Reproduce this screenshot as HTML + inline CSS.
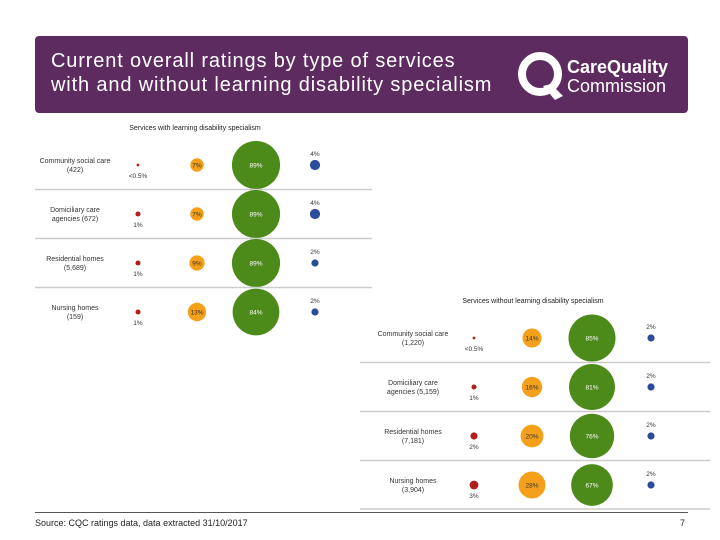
<!DOCTYPE html>
<html><head><meta charset="utf-8"><style>
body{margin:0;width:720px;height:540px;background:#fff;font-family:"Liberation Sans",sans-serif;overflow:hidden;position:relative}
#hdr{position:absolute;left:35px;top:36px;width:653px;height:77px;background:#5e2b61;border-radius:4px}
#ttl{position:absolute;left:16px;top:13px;color:#fff;font-size:20px;line-height:24px;letter-spacing:0.85px}
#src{position:absolute;left:35px;top:518px;font-size:9px;color:#222}
#pg{position:absolute;left:680px;top:518px;font-size:9px;color:#222}
</style></head><body>
<div id="hdr">
<div id="ttl">Current overall ratings by type of services<br>with and without learning disability specialism</div>
<svg style="position:absolute;left:478px;top:12px" width="170" height="56">
<circle cx="27" cy="26" r="18" fill="none" stroke="#fff" stroke-width="8"/>
<path d="M30 38 L42 52 L50 48 L38 36Z" fill="#fff"/>
<text x="54" y="25" fill="#fff" font-size="18" font-weight="bold" font-family="Liberation Sans">CareQuality</text>
<text x="54" y="44" fill="#fff" font-size="18" font-family="Liberation Sans">Commission</text>
</svg>
</div>
<svg id="ch" width="720" height="540" style="position:absolute;left:0;top:0"></svg>
<div style="position:absolute;left:35px;top:512px;width:653px;border-top:1px solid #555"></div>
<div id="src">Source: CQC ratings data, data extracted 31/10/2017</div>
<div id="pg">7</div>
<script>
const categories1=["Community social care|(422)","Domiciliary care|agencies (672)","Residential homes|(5,689)","Nursing homes|(159)"];
const inadequate1=[0.3,1,1,1];
const requiresImprovement1=[7,7,9,13];
const good1=[89,89,89,84];
const outstanding1=[4,4,2,2];
const inadLabels1=["<0.5%","1%","1%","1%"];
const categories2=["Community social care|(1,220)","Domiciliary care|agencies (5,159)","Residential homes|(7,181)","Nursing homes|(3,904)"];
const inadequate2=[0.3,1,2,3];
const requiresImprovement2=[14,16,20,28];
const good2=[85,81,76,67];
const outstanding2=[2,2,2,2];
const inadLabels2=["<0.5%","1%","2%","3%"];
const svg=document.getElementById('ch');const NS="http://www.w3.org/2000/svg";
function r(v){return 2.55*Math.sqrt(v);}
function mk(t,a,txt){const e=document.createElementNS(NS,t);for(const k in a)e.setAttribute(k,a[k]);if(txt!==undefined)e.textContent=txt;svg.appendChild(e);return e;}
function chart(o,cats,inad,ri,gd,out,il,title,key){
 const t=mk('text',{x:o.tx,y:o.ty,'font-size':7,'text-anchor':'middle',fill:'#222'},title);
 
 
 const yAt=i=>o.y0+i*o.dy;
 cats.forEach((c,i)=>{
  const y=yAt(i);
  if(i>0){const l=mk('line',{x1:o.lx1,x2:o.lx2,y1:y-o.dy/2,y2:y-o.dy/2,stroke:'#ccc','stroke-width':1.5});
   
   }
  const p=c.split('|');
  const lb=mk('text',{x:o.cx,y:y-2,'font-size':7,'text-anchor':'middle',fill:'#333'});
  
  
  const s1=mk('tspan',{x:o.cx,dy:0},p[0]);lb.appendChild(s1);
  const s2=mk('tspan',{x:o.cx,dy:9},p[1]);lb.appendChild(s2);
  const c1=mk('circle',{cx:o.xs[0],cy:y,r:r(inad[i]),fill:'#b0201c'});
  
  
  mk('text',{x:o.xs[0],y:y+13,'font-size':6.5,'text-anchor':'middle',fill:'#333'},il[i]);
  const c2=mk('circle',{cx:o.xs[1],cy:y,r:r(ri[i]),fill:'#f5a01a'});
  
  
  mk('text',{x:o.xs[1],y:y+2.5,'font-size':6.5,'text-anchor':'middle',fill:'#333'},ri[i]+'%');
  const c3=mk('circle',{cx:o.xs[2],cy:y,r:r(gd[i]),fill:'#4c8a1a'});
  
  
  mk('text',{x:o.xs[2],y:y+2.5,'font-size':6.5,'text-anchor':'middle',fill:'#fff'},gd[i]+'%');
  const c4=mk('circle',{cx:o.xs[3],cy:y,r:r(out[i]),fill:'#2b4c9b'});
  
  
  mk('text',{x:o.xs[3],y:y-9,'font-size':6.5,'text-anchor':'middle',fill:'#333'},out[i]+'%');
 });
}
chart({tx:195,ty:130,y0:165,dy:49,lx1:35,lx2:372,cx:75,xs:[138,197,256,315]},categories1,inadequate1,requiresImprovement1,good1,outstanding1,inadLabels1,"Services with learning disability specialism","chart-with-ld");
chart({tx:533,ty:303,y0:338,dy:49,lx1:360,lx2:710,cx:413,xs:[474,532,592,651]},categories2,inadequate2,requiresImprovement2,good2,outstanding2,inadLabels2,"Services without learning disability specialism","chart-without-ld");
mk('line',{x1:360,x2:710,y1:509,y2:509,stroke:'#ccc','stroke-width':1.5});
</script>
</body></html>
